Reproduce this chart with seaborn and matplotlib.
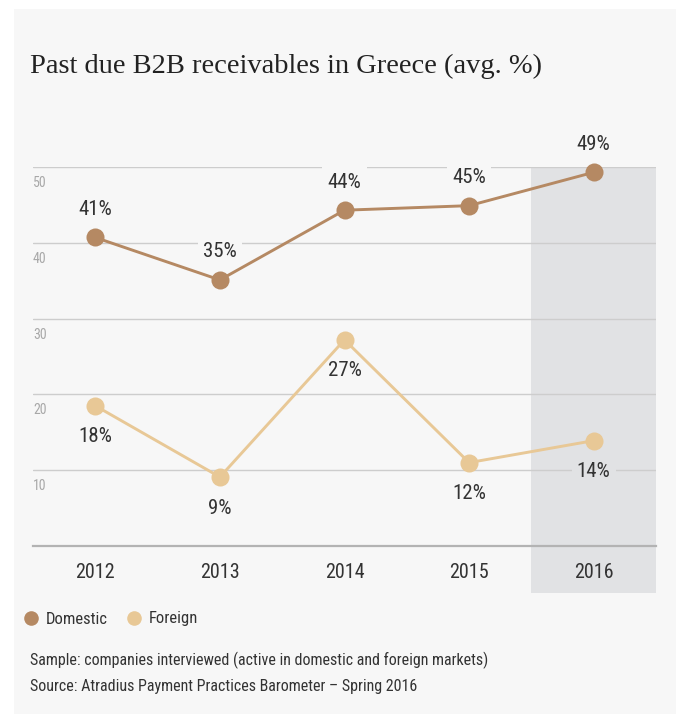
import matplotlib
matplotlib.use("Agg")
import matplotlib.pyplot as plt
from matplotlib import font_manager
from matplotlib.patches import Rectangle
from matplotlib.lines import Line2D
import matplotlib.transforms as mtransforms
import seaborn as sns
import pandas as pd

# ---- data ----
years = [2012, 2013, 2014, 2015, 2016]
domestic = [40.7, 35.1, 44.3, 44.9, 49.3]
foreign = [18.5, 9.1, 27.2, 11.0, 13.9]
domestic_labels = ["41%", "35%", "44%", "45%", "49%"]
foreign_labels = ["18%", "9%", "27%", "12%", "14%"]
series_names = ["Domestic", "Foreign"]
y_ticks = [10, 20, 30, 40, 50]
highlight_year = 2016
title = "Past due B2B receivables in Greece (avg. %)"
footer_lines = [
    "Sample: companies interviewed (active in domestic and foreign markets)",
    "Source: Atradius Payment Practices Barometer \u2013 Spring 2016",
]

# ---- styling ----
BG = "#f7f7f7"
SHADE = "#e1e2e4"
C_DOM = "#b58963"
C_FOR = "#e8c896"
TXT = "#333333"
GRID = "#cdcdcd"

sns.set_style("white")


def find_condensed():
    prefs = ["Roboto Condensed", "Liberation Sans Narrow", "Open Sans Condensed",
             "Noto Sans Condensed", "Noto Sans", "Open Sans", "DejaVu Sans", "Lato", "Inter"]
    cands = []
    for f in font_manager.fontManager.ttflist:
        fn = f.fname.lower()
        cond = ("condensed" in fn or "narrow" in fn or
                str(f.stretch).lower() in ("condensed", "semi-condensed", "extra-condensed")
                or "Condensed" in f.name or "Narrow" in f.name)
        if not cond:
            continue
        if f.style != "normal":
            continue
        if any(k in fn for k in ["bold", "italic", "light", "thin", "black", "medium",
                                  "semi", "extra", "oblique", "ultra"]):
            continue
        if f.weight not in (400, "normal", "regular", "book"):
            continue
        rank = len(prefs)
        for i, p in enumerate(prefs):
            if f.name.startswith(p):
                rank = i
                break
        cands.append((rank, f.fname))
    if cands:
        cands.sort()
        return cands[0][1]
    return None


cond_path = find_condensed()
if cond_path:
    font_manager.fontManager.addfont(cond_path)
    sans_name = font_manager.FontProperties(fname=cond_path).get_name()
    scale = 1.0
else:
    sans_name = "Roboto"
    scale = 0.85
serif = "Liberation Serif"
plt.rcParams["font.family"] = [sans_name, "DejaVu Sans"]
SANS_FP = (lambda size: font_manager.FontProperties(fname=cond_path, size=size)) if cond_path \
    else (lambda size: font_manager.FontProperties(family="Roboto", size=size))

df = pd.DataFrame({
    "year": years * 2,
    "value": domestic + foreign,
    "series": [series_names[0]] * len(years) + [series_names[1]] * len(years),
})

fig = plt.figure(figsize=(6.8, 7.14), dpi=100, facecolor="white")
fig.patches.append(Rectangle((14 / 680, 0), 662 / 680, 705 / 714,
                             transform=fig.transFigure, facecolor=BG,
                             edgecolor="none", zorder=-10))

AX_H_PX = 379
ax = fig.add_axes([33 / 680, 168 / 714, 623 / 680, AX_H_PX / 714])
ax.set_facecolor("none")
ax.set_xlim(years[0] - 0.5, years[-1] + 0.5)
ax.set_ylim(0, 50)
units_per_px = 50 / AX_H_PX

trans = mtransforms.blended_transform_factory(ax.transData, ax.transAxes)
ax.add_patch(Rectangle((highlight_year - 0.5, -47 / AX_H_PX), 1.0, 1 + 47 / AX_H_PX,
                       transform=trans, facecolor=SHADE, edgecolor="none",
                       clip_on=False, zorder=0))

for v in y_ticks:
    ax.axhline(v, color=GRID, lw=1.0, zorder=1)

sns.lineplot(data=df, x="year", y="value", hue="series",
             palette=[C_DOM, C_FOR], marker="o", markersize=13,
             markeredgewidth=0, linewidth=2.1, ax=ax, legend=False,
             zorder=5, clip_on=False)

lab_fs = 15 * scale
for vals, labs, dy_px in [(domestic, domestic_labels, 28),
                          (foreign, foreign_labels, -31)]:
    for x, v, lab in zip(years, vals, labs):
        y_lab = v + dy_px * units_per_px
        fc = SHADE if (x == highlight_year and y_lab < 50) else BG
        ax.annotate(lab, (x, v), xytext=(0, dy_px * 0.72), textcoords="offset points",
                    ha="center", va="center", fontproperties=SANS_FP(lab_fs), color=TXT,
                    bbox=dict(boxstyle="square,pad=0.25", fc=fc, ec="none"),
                    zorder=3, annotation_clip=False)

ytrans = mtransforms.blended_transform_factory(ax.transAxes, ax.transData)
for v in y_ticks:
    ax.annotate(str(v), (0, v), xycoords=ytrans, xytext=(0, -11.5),
                textcoords="offset points", ha="left", va="center",
                fontproperties=SANS_FP(10 * scale), color="#a8a8a8")

ax.set_yticks([])
ax.set_xticks(years)
ax.set_xticklabels([str(y) for y in years], color=TXT)
for t in ax.get_xticklabels():
    t.set_fontproperties(SANS_FP(14.5 * scale))
ax.tick_params(axis="x", direction="inout", length=8, width=1,
               color="#aaaaaa", pad=8)
ax.set_xlabel("")
ax.set_ylabel("")
for s in ["top", "left", "right"]:
    ax.spines[s].set_visible(False)
ax.spines["bottom"].set_color("#b3b3b3")
ax.spines["bottom"].set_linewidth(1.6)
ax.spines["bottom"].set_zorder(2)

fig.text(30 / 680, 1 - 66 / 714, title, family=serif, fontsize=20.5,
         color="#222222", ha="left", va="center")

leg_fs = 12 * scale
handles = [Line2D([], [], marker="o", linestyle="none", markersize=10.5,
                  markerfacecolor=c, markeredgewidth=0) for c in (C_DOM, C_FOR)]
fig.legend(handles, series_names, loc="center left",
           bbox_to_anchor=(23 / 680, 1 - 619 / 714), ncol=2, frameon=False,
           prop=SANS_FP(leg_fs), handletextpad=0.35, columnspacing=1.1,
           handlelength=1.0, borderpad=0, borderaxespad=0, labelcolor=TXT)

for i, line in enumerate(footer_lines):
    fig.text(30 / 680, 1 - (660 + 26 * i) / 714, line,
             fontproperties=SANS_FP(11.5 * scale), color=TXT, ha="left", va="center")

fig.savefig("out.png", dpi=100, facecolor="white")
